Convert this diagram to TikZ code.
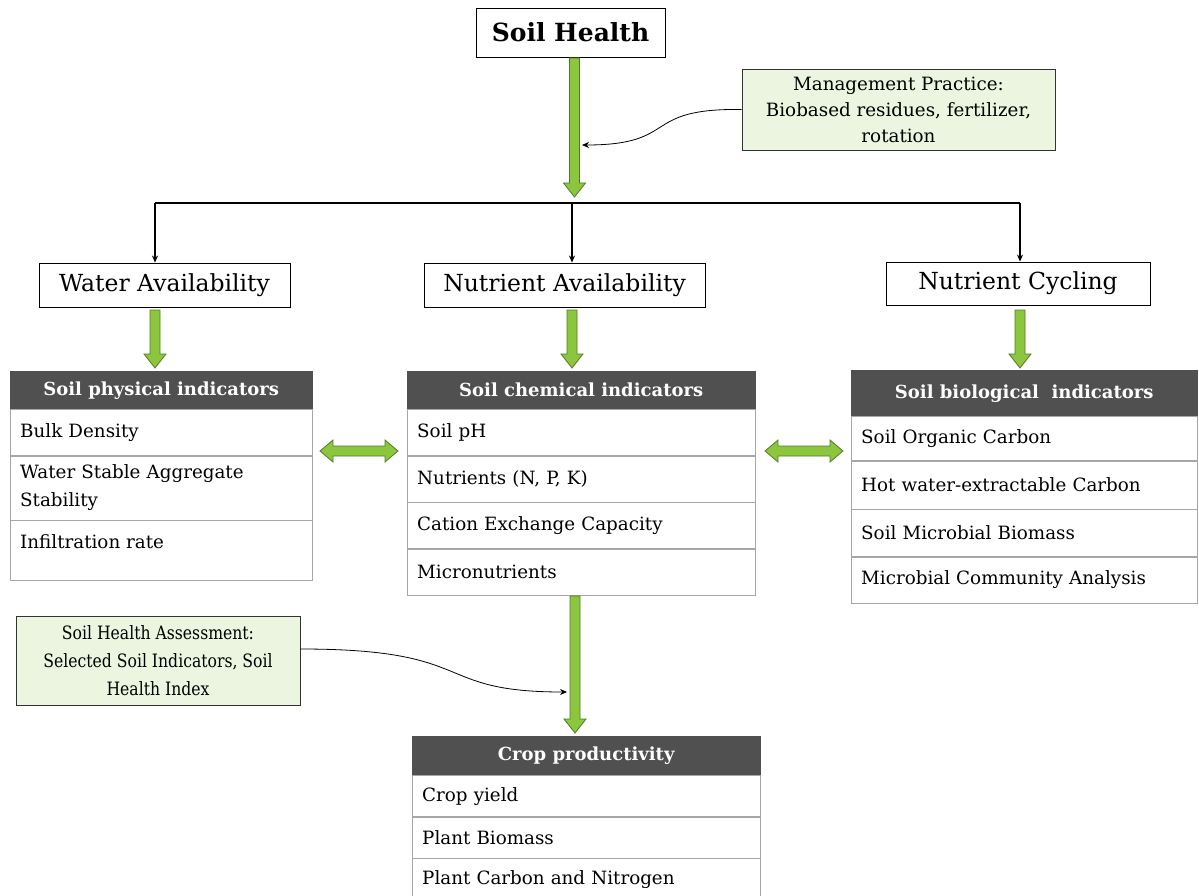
\documentclass[tikz,border=0pt]{standalone}
\usepackage{fontspec}
\setmainfont{DejaVu Serif}
\newfontfamily\condfont[FakeStretch=0.85]{DejaVu Serif}
\usetikzlibrary{arrows.meta,calc}
\definecolor{gfill}{HTML}{8CC63E}
\definecolor{gdraw}{HTML}{4F7D27}
\definecolor{hdrfill}{HTML}{505050}
\definecolor{cellline}{HTML}{A6A6A6}
\definecolor{notefill}{HTML}{EBF5E0}
\newcommand\gdown[2]{\path[fill=gfill,draw=gdraw,line width=0.8pt] let \p1=(#1), \p2=(#2) in (\x1-5pt,\y1) -- (\x1+5pt,\y1) -- (\x1+5pt,\y2+14pt) -- (\x1+11pt,\y2+14pt) -- (\x1,\y2) -- (\x1-11pt,\y2+14pt) -- (\x1-5pt,\y2+14pt) -- cycle;}
\newcommand\gboth[2]{\path[fill=gfill,draw=gdraw,line width=0.8pt] let \p1=(#1), \p2=(#2) in (\x1,\y1) -- (\x1+13pt,\y1+11pt) -- (\x1+13pt,\y1+5pt) -- (\x2-13pt,\y1+5pt) -- (\x2-13pt,\y1+11pt) -- (\x2,\y1) -- (\x2-13pt,\y1-11pt) -- (\x2-13pt,\y1-5pt) -- (\x1+13pt,\y1-5pt) -- (\x1+13pt,\y1-11pt) -- cycle;}
\tikzset{
  hdr/.style={fill=hdrfill, draw=hdrfill, text=white, font=\bfseries\fontsize{18}{21}\selectfont, inner sep=0pt, anchor=north west},
  cell/.style={draw=cellline, fill=white, font=\fontsize{18.3}{28}\selectfont, align=left, inner xsep=10pt, inner ysep=0pt, anchor=north west},
  lbl/.style={draw=black, line width=0.9pt, fill=white, inner sep=0pt, font=\fontsize{23.5}{26}\selectfont},
  note/.style={draw=black!80, line width=0.8pt, fill=notefill, align=center, inner sep=0pt},
  conn/.style={-{Stealth[length=7pt,width=6pt]}, line width=1.4pt},
  thin/.style={-{Stealth[length=7pt,width=6pt]}, line width=0.8pt}
}
\begin{document}
\begin{tikzpicture}[x=1pt,y=-1pt]
\useasboundingbox (0,0) rectangle (1199,896);
% top
\node[draw=black, line width=0.9pt, fill=white, minimum width=189pt, minimum height=49pt, inner sep=0pt, font=\bfseries\fontsize{25}{28}\selectfont] (sh) at (570.5,32.5) {Soil Health};
\node[note, minimum width=313pt, minimum height=81pt, font=\fontsize{18.3}{26}\selectfont] (mp) at (898.5,109.5) {Management Practice:\\Biobased residues, fertilizer,\\rotation};
\coordinate (shtop) at (574.5,58);
\coordinate (br) at (574.5,197);
\gdown{shtop}{br}
\draw[thin] (mp.west) .. controls (640,108) and (680,145) .. (582,145);
% branch
\node[lbl, minimum width=251pt, minimum height=44pt] (wa) at (164.5,285) {Water Availability};
\node[lbl, minimum width=281pt, minimum height=44pt] (na) at (564.5,285) {Nutrient Availability};
\node[lbl, minimum width=264pt, minimum height=43pt] (nc) at (1018,283.5) {Nutrient Cycling};
\coordinate (bl) at (572,203);
\draw[line width=1.8pt] (155,203) -- (1020,203);
\draw[conn] (155,203) -- (wa.north -| 155,0);
\draw[conn] (bl) -- (na.north -| bl);
\draw[conn] (1020,203) -- (nc.north -| 1020,0);
% physical table
\node[hdr, minimum width=302pt, minimum height=38pt] (ph) at (10,371) {Soil physical indicators};
\node[cell, text width=282pt, minimum height=46pt] (p1) at (ph.south west) {Bulk Density};
\node[cell, text width=282pt, minimum height=64pt] (p2) at (p1.south west) {Water Stable Aggregate\\Stability};
\node[cell, text width=282pt, minimum height=60pt] (p3) at (p2.south west) {};
\node[font=\fontsize{18.3}{21}\selectfont, anchor=north west, inner sep=0pt] (p3t) at ([xshift=10pt,yshift=-14pt]p3.north west) {Infiltration rate};
% chemical table
\node[hdr, minimum width=348pt, minimum height=38pt] (ch) at (407,371) {Soil chemical indicators};
\node[cell, text width=328pt, minimum height=46pt] (c1) at (ch.south west) {Soil pH};
\node[cell, text width=328pt, minimum height=46pt] (c2) at (c1.south west) {Nutrients (N, P, K)};
\node[cell, text width=328pt, minimum height=46pt] (c3) at (c2.south west) {Cation Exchange Capacity};
\node[cell, text width=328pt, minimum height=46pt] (c4) at (c3.south west) {Micronutrients};
% biological table
\node[hdr, minimum width=346pt, minimum height=46pt] (bh) at (851,370) {Soil biological\ \ indicators};
\node[cell, text width=326pt, minimum height=44pt] (b1) at (bh.south west) {Soil Organic Carbon};
\node[cell, text width=326pt, minimum height=48pt] (b2) at (b1.south west) {Hot water-extractable Carbon};
\node[cell, text width=326pt, minimum height=47pt] (b3) at (b2.south west) {Soil Microbial Biomass};
\node[cell, text width=326pt, minimum height=46pt] (b4) at (b3.south west) {Microbial Community Analysis};
% arrows down to tables
\gdown{155,310}{155,368}
\gdown{572,310}{572,368}
\gdown{1020,310}{1020,368}
\coordinate (dl1) at (320,451); \coordinate (dl2) at (398,451);
\coordinate (dr1) at (765,451); \coordinate (dr2) at (843,451);
\gboth{dl1}{dl2}
\gboth{dr1}{dr2}
% crop
\node[hdr, minimum width=348pt, minimum height=39pt] (cp) at (412,736) {Crop productivity};
\node[cell, text width=328pt, minimum height=41pt] (k1) at (cp.south west) {Crop yield};
\node[cell, text width=328pt, minimum height=41pt] (k2) at (k1.south west) {Plant Biomass};
\node[cell, text width=328pt, minimum height=42pt] (k3) at (k2.south west) {Plant Carbon and Nitrogen};
\coordinate (ca1) at (575,596); \coordinate (ca2) at (575,733);
\gdown{ca1}{ca2}
\node[note, minimum width=284pt, minimum height=89pt, font=\condfont\fontsize{18.4}{28}\selectfont] (sa) at (158,660.5) {Soil Health Assessment:\\Selected Soil Indicators, Soil\\Health Index};
\draw[thin] (sa.east |- 0,649) .. controls (480,649) and (430,692) .. (567,692);
\end{tikzpicture}
\end{document}
